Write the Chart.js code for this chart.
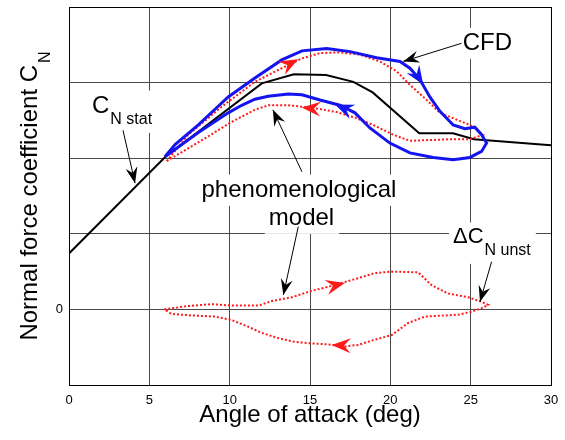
<!DOCTYPE html>
<html>
<head>
<meta charset="utf-8">
<title>Normal force coefficient</title>
<script src="https://cdn.jsdelivr.net/npm/chart.js@4.4.0/dist/chart.umd.min.js"></script>
<style>
  body { margin: 0; background: #fff; }
  #wrap { width: 565px; height: 440px; }
</style>
</head>
<body>
<div id="wrap"><canvas id="cnChart" width="565" height="440"></canvas></div>
<script>
// static normal force curve
const statAoa = [0, 6, 12, 14, 16, 17.7, 18.9, 21.8, 23.9, 25.2, 30];
const statCn = [0.74, 2.02, 2.99, 3.11, 3.1, 3.01, 2.87, 2.33, 2.33, 2.25, 2.17];

// CFD hysteresis loop (up-stroke, then back down)
const cfdAoa = [5.97, 6.6, 8.05, 9.91, 11.57, 13.24, 14.5, 16.04, 17.49, 19.15, 20.6, 21.22, 21.84, 22.46, 23.09, 23.91, 24.64, 25.26, 25.68, 25.99,
  25.68, 24.95, 23.91, 22.67, 21.22, 19.97, 18.73, 17.8, 16.86, 15.62, 14.5, 13.65, 12.4, 11.57, 10.75, 9.91, 8.05, 5.97];
const cfdCn = [2.02, 2.18, 2.44, 2.81, 3.06, 3.3, 3.42, 3.45, 3.41, 3.33, 3.28, 3.19, 3.04, 2.81, 2.62, 2.44, 2.39, 2.41, 2.31, 2.2,
  2.09, 2.01, 1.98, 2.01, 2.07, 2.2, 2.4, 2.6, 2.7, 2.77, 2.84, 2.85, 2.82, 2.78, 2.7, 2.6, 2.34, 2.02];

// phenomenological model loop
const modelAoa = [6.08, 7.42, 9.5, 11.57, 13.24, 14.5, 15.62, 16.86, 18.1, 19.35, 20.39, 21.22, 22.26, 23.09, 24.13, 24.95, 25.78,
  24.95, 23.7, 22.46, 21.22, 20.18, 18.94, 17.9, 16.66, 15.62, 14.58, 13.65, 12.4, 11.57, 10.12, 8.67, 7.42, 6.39, 6.08];
const modelCn = [1.96, 2.31, 2.68, 3.01, 3.19, 3.32, 3.39, 3.4, 3.37, 3.28, 3.15, 2.97, 2.77, 2.6, 2.51, 2.44, 2.31,
  2.25, 2.25, 2.24, 2.23, 2.31, 2.44, 2.53, 2.61, 2.65, 2.68, 2.7, 2.7, 2.64, 2.48, 2.29, 2.13, 2.0, 1.96];

// unsteady increment of the model
const unstAoa = [5.93, 7.22, 8.88, 10.12, 11.78, 12.61, 13.86, 15.1, 16.14, 17.8, 19.04, 20.08, 21.74, 22.57, 23.6, 24.85, 25.68, 26.09,
  25.68, 25.06, 24.23, 22.15, 21.11, 20.08, 19.04, 18.0, 17.17, 15.93, 15.1, 14.06, 13.02, 11.99, 11.16, 10.12, 9.08, 7.64, 6.39, 5.93];
const unstCn = [0, 0.04, 0.07, 0.05, 0.05, 0.11, 0.16, 0.245, 0.3, 0.4, 0.48, 0.5, 0.49, 0.32, 0.21, 0.16, 0.1, 0.06,
  0.016, -0.03, -0.07, -0.095, -0.18, -0.34, -0.4, -0.47, -0.49, -0.46, -0.45, -0.43, -0.38, -0.31, -0.23, -0.14, -0.095, -0.08, -0.06, 0];

const xTicks = [0, 5, 10, 15, 20, 25, 30];
const yTicks = [-1, 0, 1, 2, 3, 4];
const yLabelled = [0];

const FONT = '"Liberation Sans", Arial, sans-serif';
const RED = '#ff1a1a';
const BLUE = '#1414f0';

// direction arrows sitting on the loops: [fromX, fromY, tipX, tipY]
const loopArrows = [
  { color: RED, at: [13.2, 3.19, 14.27, 3.31] },
  { color: RED, at: [15.6, 2.65, 14.48, 2.67] },
  { color: BLUE, at: [21.5, 3.15, 22.05, 2.97] },
  { color: BLUE, at: [17.8, 2.6, 16.55, 2.71] },
  { color: RED, at: [16.0, 0.29, 17.17, 0.35] },
  { color: RED, at: [17.5, -0.48, 16.35, -0.47] }
];

// text notes with their pointer arrows
const notes = [
  { x: 26.04, y: 3.43, align: 'center', parts: [['CFD', 24, 0]] },
  { x: 1.43, y: 2.6, align: 'left', parts: [['C', 24, 0], ['N stat', 16, 11]] },
  { x: 14.31, y: 1.488, align: 'center', parts: [['phenomenological', 24, 0]] },
  { x: 14.47, y: 1.118, align: 'center', parts: [['model', 24, 0]] },
  { x: 23.9, y: 0.876, align: 'left', parts: [['\u0394C', 22, 0], ['N unst', 16, 11.7]] }
];
const pointers = [
  [24.43, 3.52, 20.8, 3.28],
  [3.36, 2.37, 4.11, 1.67],
  [14.5, 1.82, 12.69, 2.64],
  [14.27, 1.095, 13.34, 0.19],
  [26.3, 0.63, 25.58, 0.1]
];

const toPoints = (xs, ys) => xs.map((x, i) => ({ x: x, y: ys[i] }));

function toPx(chart, x, y) {
  return [chart.scales.x.getPixelForValue(x), chart.scales.y.getPixelForValue(y)];
}

function arrowHead(ctx, x1, y1, x2, y2, len, half, color) {
  const a = Math.atan2(y2 - y1, x2 - x1);
  ctx.save();
  ctx.translate(x2, y2);
  ctx.rotate(a);
  ctx.beginPath();
  ctx.moveTo(0, 0);
  ctx.lineTo(-len, -half);
  ctx.lineTo(-len * 0.65, 0);
  ctx.lineTo(-len, half);
  ctx.closePath();
  ctx.fillStyle = color;
  ctx.fill();
  ctx.restore();
}

// works out where each piece of a note goes, plus its white backing box
function layoutNote(ctx, chart, note) {
  const [ax, ay] = toPx(chart, note.x, note.y);
  let w = 0;
  let mainSize = 0;
  let maxDy = 0;
  const pieces = note.parts.map(([text, size, dy], i) => {
    ctx.font = size + 'px ' + FONT;
    if (i > 0) w += 1;
    const p = { text: text, size: size, dy: dy, off: w };
    w += ctx.measureText(text).width;
    if (dy === 0) mainSize = Math.max(mainSize, size);
    maxDy = Math.max(maxDy, dy);
    return p;
  });
  const left = note.align === 'center' ? ax - w / 2 : ax;
  return {
    left: left,
    base: ay,
    pieces: pieces,
    box: [left - 4, ay - mainSize * 0.72 - 5, w + 9, mainSize * 0.72 + 5 + maxDy + 9]
  };
}

const notesPlugin = {
  id: 'notesPlugin',
  beforeDatasetsDraw(chart) {
    const ctx = chart.ctx;
    ctx.save();
    ctx.fillStyle = '#fff';
    notes.forEach(n => {
      const b = layoutNote(ctx, chart, n).box;
      ctx.fillRect(b[0], b[1], b[2], b[3]);
    });
    ctx.restore();
  },
  afterDatasetsDraw(chart) {
    const ctx = chart.ctx;
    ctx.save();

    loopArrows.forEach(a => {
      const [x1, y1] = toPx(chart, a.at[0], a.at[1]);
      const [x2, y2] = toPx(chart, a.at[2], a.at[3]);
      arrowHead(ctx, x1, y1, x2, y2, 19, 7.5, a.color);
    });

    ctx.fillStyle = '#000';
    ctx.textBaseline = 'alphabetic';
    ctx.textAlign = 'left';
    notes.forEach(n => {
      const l = layoutNote(ctx, chart, n);
      l.pieces.forEach(p => {
        ctx.font = p.size + 'px ' + FONT;
        ctx.fillText(p.text, l.left + p.off, l.base + p.dy);
      });
    });

    ctx.strokeStyle = '#000';
    ctx.lineWidth = 1;
    pointers.forEach(p => {
      const [x1, y1] = toPx(chart, p[0], p[1]);
      const [x2, y2] = toPx(chart, p[2], p[3]);
      ctx.beginPath();
      ctx.moveTo(x1, y1);
      ctx.lineTo(x2, y2);
      ctx.stroke();
      arrowHead(ctx, x1, y1, x2, y2, 16, 6, '#000');
    });

    // axis titles
    const area = chart.chartArea;
    ctx.font = '24px ' + FONT;
    ctx.textAlign = 'center';
    ctx.fillText('Angle of attack (deg)', (area.left + area.right) / 2, area.bottom + 37);

    const main = 'Normal force coefficient C';
    const sub = 'N';
    const mw = ctx.measureText(main).width;
    ctx.font = '16px ' + FONT;
    const sw = ctx.measureText(sub).width;
    const total = mw + 2 + sw;
    ctx.translate(area.left - 32, (area.top + area.bottom) / 2);
    ctx.rotate(-Math.PI / 2);
    ctx.textAlign = 'left';
    ctx.font = '24px ' + FONT;
    ctx.fillText(main, -total / 2, 0);
    ctx.font = '16px ' + FONT;
    ctx.fillText(sub, -total / 2 + mw + 2, 13);
    ctx.restore();
  }
};

const ctx = document.getElementById('cnChart').getContext('2d');

const chart = new Chart(ctx, {
  type: 'scatter',
  data: {
    datasets: [
      {
        label: 'CFD',
        data: toPoints(cfdAoa, cfdCn),
        showLine: true,
        borderColor: BLUE,
        borderWidth: 3,
        pointRadius: 0,
        order: 0
      },
      {
        label: 'phenomenological model',
        data: toPoints(modelAoa, modelCn),
        showLine: true,
        borderColor: RED,
        borderWidth: 2,
        borderDash: [2, 2],
        pointRadius: 0,
        order: 1
      },
      {
        label: 'unsteady part',
        data: toPoints(unstAoa, unstCn),
        showLine: true,
        borderColor: RED,
        borderWidth: 2,
        borderDash: [2, 2],
        pointRadius: 0,
        order: 1
      },
      {
        label: 'CN stat',
        data: toPoints(statAoa, statCn),
        showLine: true,
        borderColor: '#000',
        borderWidth: 2,
        pointRadius: 0,
        order: 2
      }
    ]
  },
  options: {
    responsive: false,
    animation: false,
    devicePixelRatio: 1,
    layout: { padding: { top: 7, right: 14, left: 0, bottom: 0 } },
    plugins: {
      legend: { display: false },
      tooltip: { enabled: false }
    },
    scales: {
      x: {
        type: 'linear',
        min: 0,
        max: 30,
        afterBuildTicks: scale => { scale.ticks = xTicks.map(v => ({ value: v })); },
        afterFit: scale => {
          scale.height = 55;
          scale.paddingLeft = 0;
          scale.paddingRight = 0;
        },
        ticks: {
          color: '#000',
          font: { family: FONT, size: 13 },
          padding: 8,
          maxRotation: 0
        },
        grid: {
          drawTicks: false,
          color: c => (c.tick && c.tick.value === 30 ? '#000' : '#4a4a4a'),
          lineWidth: 1
        },
        border: { color: '#000', width: 1 }
      },
      y: {
        type: 'linear',
        min: -1,
        max: 4,
        afterBuildTicks: scale => { scale.ticks = yTicks.map(v => ({ value: v })); },
        afterFit: scale => {
          scale.width = 69;
          scale.paddingTop = 0;
          scale.paddingBottom = 0;
        },
        ticks: {
          color: '#000',
          font: { family: FONT, size: 13 },
          padding: 6,
          callback: v => (yLabelled.includes(v) ? String(v) : '')
        },
        grid: {
          drawTicks: false,
          color: c => (c.tick && c.tick.value === 4 ? '#000' : '#4a4a4a'),
          lineWidth: 1
        },
        border: { color: '#000', width: 1 }
      }
    }
  },
  plugins: [notesPlugin]
});
</script>
</body>
</html>
